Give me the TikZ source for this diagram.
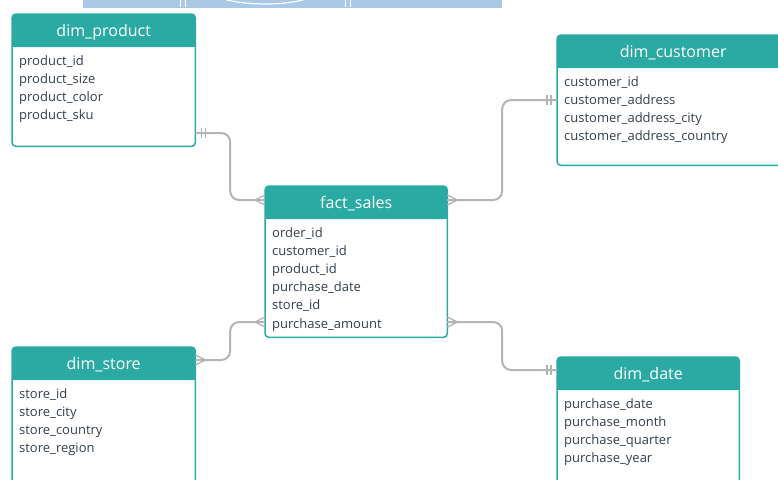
\documentclass[tikz,border=0pt]{standalone}
\usepackage{fontspec}
\setmainfont{Open Sans}
\usetikzlibrary{calc}

\definecolor{erteal}{HTML}{2BAAA4}
\definecolor{erink}{HTML}{343F50}
\definecolor{erline}{HTML}{B4B4B4}
\definecolor{erband}{HTML}{A9C9E7}

\tikzset{
  tblbody/.style={fill=white, draw=none, rounded corners=4pt, anchor=north west, inner sep=0pt},
  tblhead/.style={fill=erteal, draw=none, rounded corners=4pt, anchor=north west, inner sep=0pt},
  tblframe/.style={draw=erteal, line width=1.5pt, rounded corners=4pt},
  tbltitle/.style={anchor=base, inner sep=0pt, text=white, font=\fontsize{16}{18}\selectfont},
  field/.style={anchor=base west, inner sep=0pt, text=erink, font=\fontsize{13}{15}\selectfont},
  conn/.style={draw=erline, line width=2pt, rounded corners=9pt},
  endmark/.style={draw=erline, line width=1.3pt},
}

% one entity table: name, x, y, width, height, title, field list
\newcommand\ertable[7]{%
  \node[tblbody, minimum width=#4pt, minimum height=#5pt] (#1) at (#2,#3) {};
  \node[tblhead, minimum width=#4pt, minimum height=33pt] (#1-head) at (#2,#3) {};
  \fill[erteal] (#1-head.west) rectangle (#1-head.south east);
  \draw[tblframe] (#1.north west) rectangle (#1.south east);
  \node[tbltitle] (#1-title) at ($(#1.north)+(0,22)$) {#6};
  \foreach \f [count=\i] in {#7}
    \node[field] (#1-f\i) at ($(#1.north west)+(7,{51+18.2*(\i-1)})$) {\f};
}

% crow's foot (many) at a box edge; #2 = +1 or -1, the side the line leaves to
\newcommand\crowfoot[2]{%
  \draw[endmark] ($(#1)+(0,-5)$) -- ($(#1)+({#2*10},0)$) -- ($(#1)+(0,5)$)
                 ($(#1)+({#2*10},0)$) -- (#1);
}
% double bar (exactly one) near a box edge
\newcommand\onebars[2]{%
  \draw[endmark] ($(#1)+({#2*6},-5)$) -- ++(0,10)
                 ($(#1)+({#2*10},-5)$) -- ++(0,10);
}

\begin{document}
\begin{tikzpicture}[x=1pt, y=-1pt]
  \useasboundingbox (0,0) rectangle (778,479);
  \clip (0,0) rectangle (778,479);
  \fill[white] (0,0) rectangle (778,479);

  % light blue strip along the top edge
  \fill[erband] (83,0) rectangle (502,8);
  \begin{scope}
    \clip (83,0) rectangle (502,8);
    \draw[white, line width=1.2pt] (265,-9) ellipse [x radius=52, y radius=13];
    \draw[white, line width=1pt] (180,0) -- (180,7) (185,0) -- (185,7)
                                 (345,0) -- (345,7) (350,0) -- (350,7);
  \end{scope}

  % entity tables
  \ertable{prod}{12}{14}{183}{132}{dim\_product}
    {product\_id, product\_size, product\_color, product\_sku}
  \ertable{cust}{557}{35}{232}{130}{dim\_customer}
    {customer\_id, customer\_address, customer\_address\_city, customer\_address\_country}
  \ertable{fact}{265}{186}{182}{151}{fact\_sales}
    {order\_id, customer\_id, product\_id, purchase\_date, store\_id, purchase\_amount}
  \ertable{store}{12}{347}{183}{150}{dim\_store}
    {store\_id, store\_city, store\_country, store\_region}
  \ertable{date}{557}{357}{182}{140}{dim\_date}
    {purchase\_date, purchase\_month, purchase\_quarter, purchase\_year}

  % connector end points on the box edges
  \coordinate (pa) at (prod.east |- 0,133);
  \coordinate (pb) at (fact.west |- 0,200);
  \coordinate (ca) at (fact.east |- 0,200);
  \coordinate (cb) at (cust.west |- 0,100);
  \coordinate (sa) at (store.east |- 0,360);
  \coordinate (sb) at (fact.west |- 0,322);
  \coordinate (da) at (fact.east |- 0,322);
  \coordinate (db) at (date.west |- 0,370);

  % relationships
  \draw[conn] (pa) -| ($(pa)!.5!(pb)$) |- (pb);
  \draw[conn] (ca) -| ($(ca)!.5!(cb)$) |- (cb);
  \draw[conn] (sa) -| ($(sa)!.5!(sb)$) |- (sb);
  \draw[conn] (da) -| ($(da)!.5!(db)$) |- (db);

  % cardinality marks
  \onebars{pa}{1}
  \crowfoot{pb}{-1}
  \crowfoot{ca}{1}
  \onebars{cb}{-1}
  \crowfoot{sa}{1}
  \crowfoot{sb}{-1}
  \crowfoot{da}{1}
  \onebars{db}{-1}
\end{tikzpicture}
\end{document}
